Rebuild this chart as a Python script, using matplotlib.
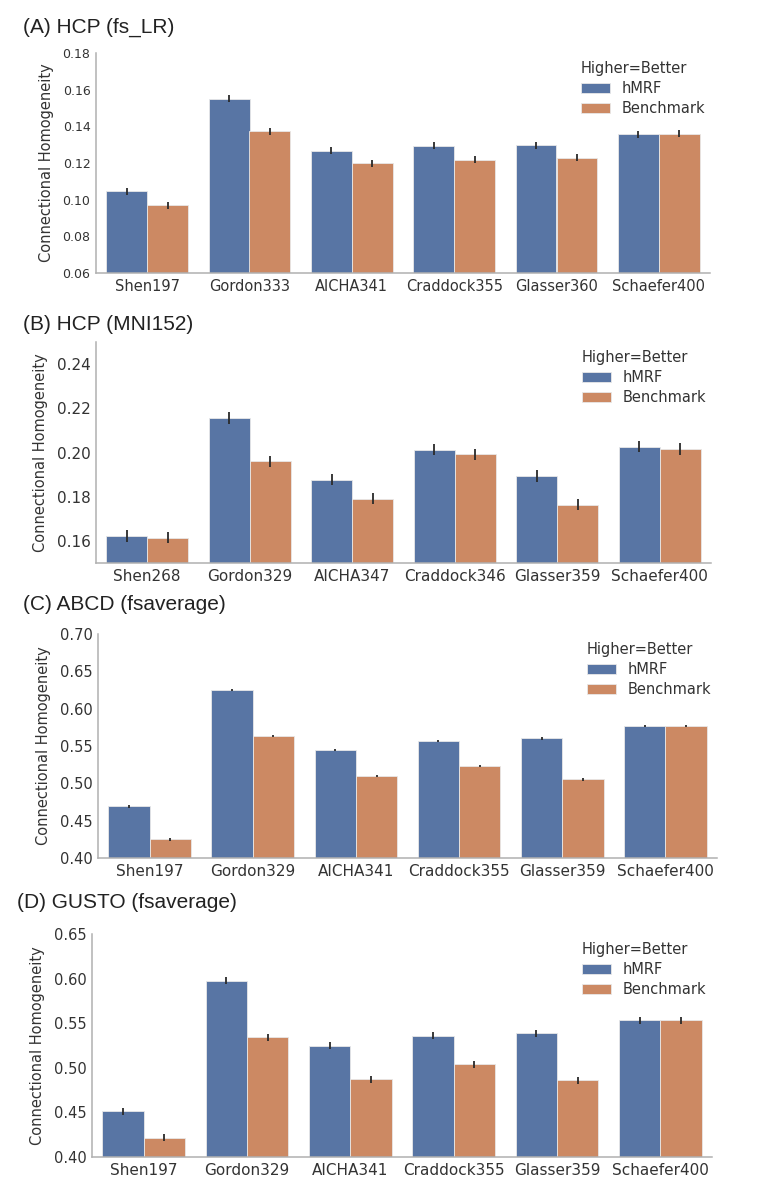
import numpy as np
import matplotlib
matplotlib.use('Agg')
import matplotlib.pyplot as plt

plt.rcParams['font.family'] = ['DejaVu Sans']

# data
titles = ['(A) HCP (fs_LR)', '(B) HCP (MNI152)', '(C) ABCD (fsaverage)', '(D) GUSTO (fsaverage)']

labels_a = ['Shen197', 'Gordon333', 'AICHA341', 'Craddock355', 'Glasser360', 'Schaefer400']
hmrf_a = [0.1047, 0.1551, 0.1268, 0.1295, 0.1298, 0.1356]
bench_a = [0.0970, 0.1374, 0.1199, 0.1217, 0.1228, 0.1360]
err_a = [0.0019, 0.0019, 0.0019, 0.0019, 0.0019, 0.0019]

labels_b = ['Shen268', 'Gordon329', 'AICHA347', 'Craddock346', 'Glasser359', 'Schaefer400']
hmrf_b = [0.1622, 0.2157, 0.1876, 0.2013, 0.1893, 0.2027]
bench_b = [0.1615, 0.1960, 0.1790, 0.1991, 0.1764, 0.2016]
err_b = [0.0026, 0.0026, 0.0025, 0.0026, 0.0026, 0.0026]

labels_c = ['Shen197', 'Gordon329', 'AICHA341', 'Craddock355', 'Glasser359', 'Schaefer400']
hmrf_c = [0.4690, 0.6253, 0.5450, 0.5570, 0.5603, 0.5764]
bench_c = [0.4250, 0.5635, 0.5102, 0.5236, 0.5052, 0.5764]
err_c = [0.0016, 0.0016, 0.0016, 0.0016, 0.0016, 0.0016]

labels_d = ['Shen197', 'Gordon329', 'AICHA341', 'Craddock355', 'Glasser359', 'Schaefer400']
hmrf_d = [0.4513, 0.5976, 0.5246, 0.5362, 0.5385, 0.5534]
bench_d = [0.4217, 0.5340, 0.4872, 0.5037, 0.4861, 0.5534]
err_d = [0.0040, 0.0040, 0.0040, 0.0040, 0.0040, 0.0040]

BLUE = '#5875a4'
ORANGE = '#cc8963'

fig = plt.figure(figsize=(7.63, 12), dpi=100)

W, H = 763.0, 1200.0
# (left, right, top, bottom) in pixels
boxes = [(96, 710, 53, 273), (96, 711, 342, 563), (98, 717, 634, 858), (92, 712, 934, 1157)]
title_pos = [(23, 27), (23, 324), (23, 604), (17, 903)]
ylims = [(0.06, 0.18), (0.15, 0.25), (0.40, 0.70), (0.40, 0.65)]
yticks = [np.arange(0.06, 0.181, 0.02), np.arange(0.16, 0.241, 0.02),
          np.arange(0.40, 0.701, 0.05), np.arange(0.40, 0.651, 0.05)]
ytick_size = [9, 11, 10.5, 10.5]
xtick_size = [10.5, 11, 11, 11]

panels = [(labels_a, hmrf_a, bench_a, err_a),
          (labels_b, hmrf_b, bench_b, err_b),
          (labels_c, hmrf_c, bench_c, err_c),
          (labels_d, hmrf_d, bench_d, err_d)]

for i, (labs, h, b, e) in enumerate(panels):
    l, r, t, bt = boxes[i]
    ax = fig.add_axes([l / W, 1 - bt / H, (r - l) / W, (bt - t) / H])
    x = np.arange(len(labs))
    ax.bar(x - 0.2, h, 0.4, color=BLUE, edgecolor='#e8e8e8', linewidth=0.6, label='hMRF', zorder=2)
    ax.bar(x + 0.2, b, 0.4, color=ORANGE, edgecolor='#e8e8e8', linewidth=0.6, label='Benchmark', zorder=2)
    ax.errorbar(x - 0.2, h, yerr=e, fmt='none', ecolor='#2a2a2a', elinewidth=1.3, capsize=0, zorder=3)
    ax.errorbar(x + 0.2, b, yerr=e, fmt='none', ecolor='#2a2a2a', elinewidth=1.3, capsize=0, zorder=3)
    ax.set_xlim(-0.5, len(labs) - 0.5)
    ax.set_ylim(*ylims[i])
    ax.set_yticks(yticks[i])
    ax.set_yticklabels(['%.2f' % v for v in yticks[i]], fontsize=ytick_size[i], color='#333333')
    ax.set_xticks(x)
    ax.set_xticklabels(labs, fontsize=xtick_size[i], color='#333333')
    ax.tick_params(length=0, pad=4)
    for s in ['top', 'right']:
        ax.spines[s].set_visible(False)
    for s in ['left', 'bottom']:
        ax.spines[s].set_color('#b0b0b0')
        ax.spines[s].set_linewidth(1.1)
    ax.set_ylabel('Connectional Homogeneity', fontsize=10.5, color='#333333', labelpad=6)
    leg = ax.legend(title='Higher=Better', loc='upper left', bbox_to_anchor=(0.79, 0.965),
                    frameon=False, fontsize=10.5, title_fontsize=10.5, alignment='left',
                    handlelength=2.0, handleheight=0.7, handletextpad=0.8,
                    labelspacing=0.35, borderpad=0, borderaxespad=0)
    leg.get_title().set_color('#333333')
    for txt in leg.get_texts():
        txt.set_color('#333333')
    tx, ty = title_pos[i]
    fig.text(tx / W, 1 - ty / H, titles[i], fontsize=15, family='Liberation Sans',
             color='#222222', ha='left', va='center')

fig.savefig('out.png', dpi=100)
